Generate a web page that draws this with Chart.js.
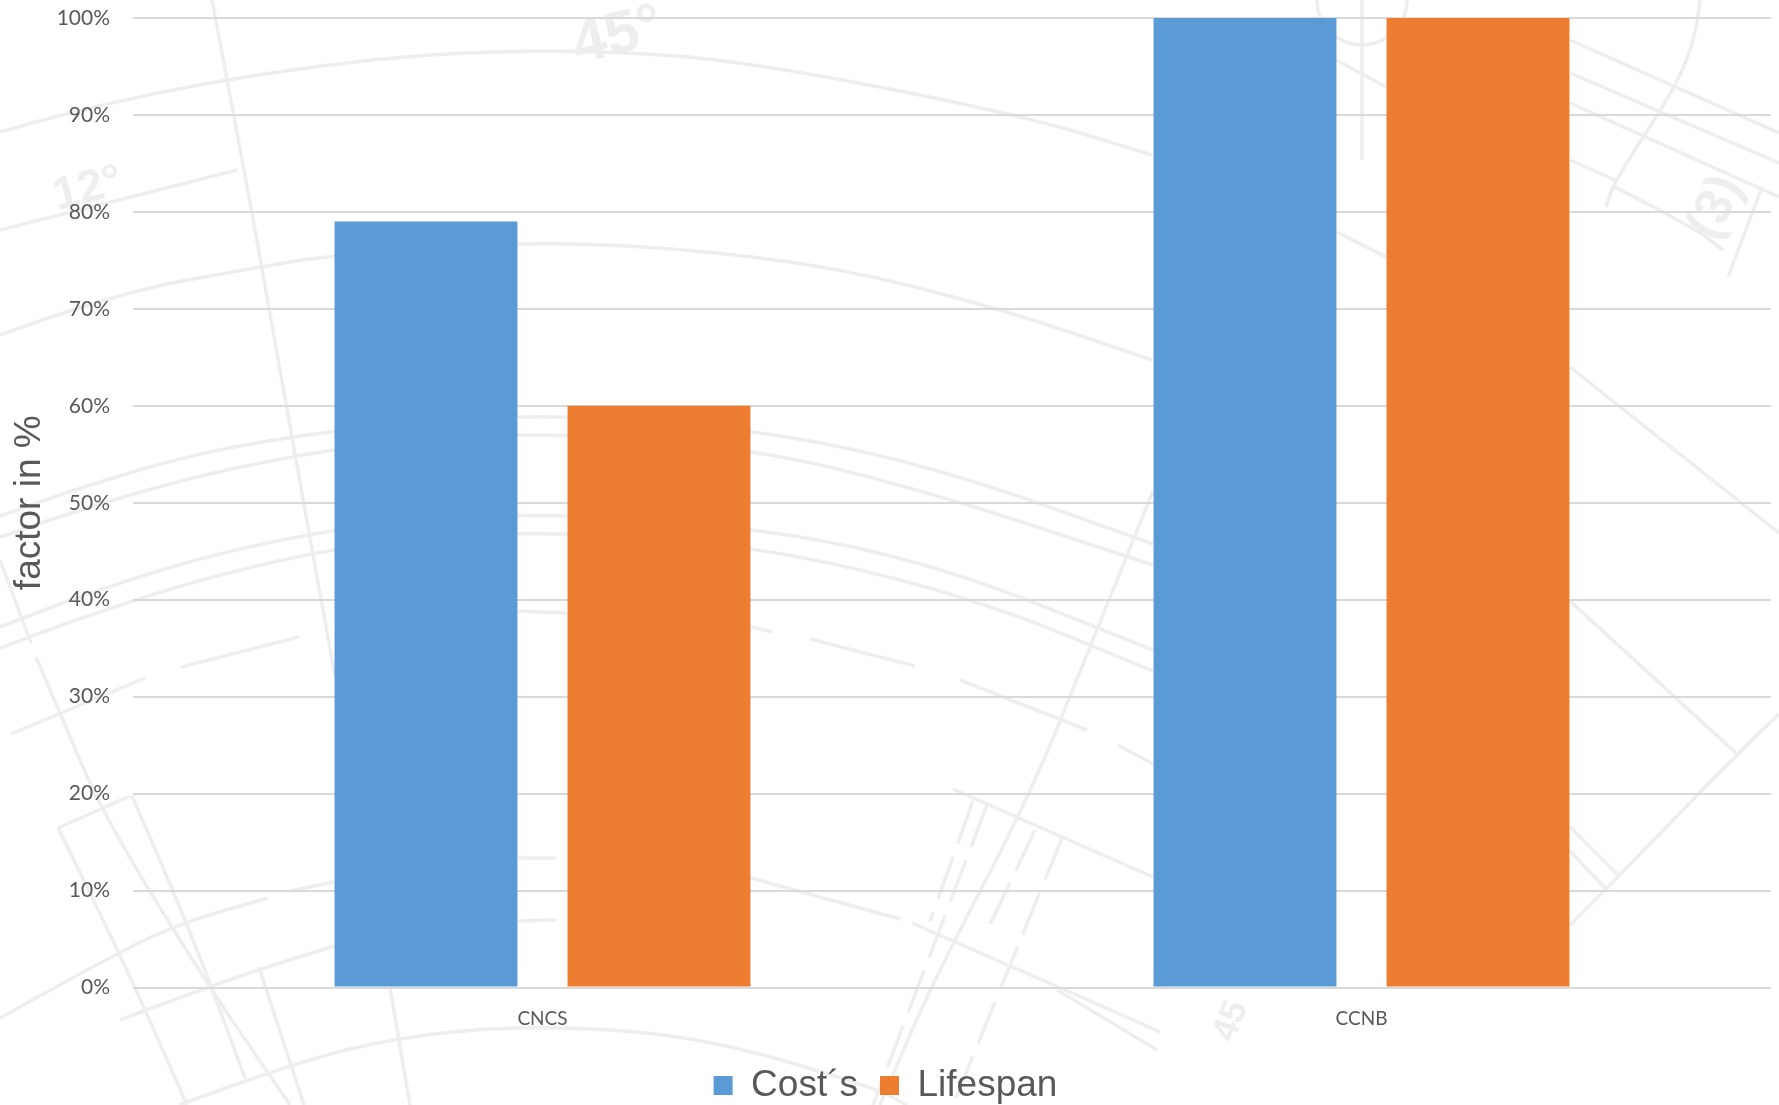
<!DOCTYPE html>
<html>
<head>
<meta charset="utf-8">
<style>
  html, body { margin: 0; padding: 0; background: #fff; }
  #wrap { width: 1779px; height: 1105px; overflow: hidden; }
</style>
</head>
<body>
<div id="wrap"><canvas id="chart"></canvas></div>
<script src="https://cdn.jsdelivr.net/npm/chart.js@4/dist/chart.umd.min.js"></script>
<script>
const categories = ['CNCS', 'CCNB'];
const costs = [79, 100];
const lifespan = [60, 100];
const yMax = 100;
const yStep = 10;

// faint technical drawing behind the chart
const sketchLines = [
    [[0,132],[76,110],[230,78],[421,53],[600,50],[752,62],[1022,115],[1152,155]],
    [[0,230],[237,170]],
    [[0,335],[115,293],[260,267],[333,255],[517,242],[668,247],[837,267],[1005,310],[1152,360]],
    [[1336,60],[1386,87]], [[1337,232],[1386,257]],
    [[1570,40],[1779,133]], [[1570,73],[1779,163]], [[1570,103],[1779,197]],
    [[1570,160],[1615,180]], [[1615,187],[1693,227],[1723,250]],
    [[1700,0],[1697,33],[1676,87],[1615,180],[1606,207]],
    [[1762,187],[1728,277]], [[1362,0],[1362,160]],
    [[212,0],[250,200],[285,400],[335,676]], [[0,560],[31,643]],
    [[0,516],[134,468],[290,435],[518,412],[751,428],[940,468],[1153,544]],
    [[0,537],[134,490],[334,447],[518,431],[751,447],[940,495],[1153,565]],
    [[0,627],[134,574],[334,527],[518,512],[751,526],[940,565],[1153,650]],
    [[0,648],[134,597],[334,546],[518,530],[751,544],[973,597],[1153,671]],
    [[1570,601],[1737,754]], [[1570,367],[1779,533]],
    [[1570,827],[1620,877]], [[1570,851],[1607,890]],
    [[1779,714],[1737,754],[1620,875],[1570,925]],
    [[11,734],[145,678]], [[181,667],[299,637]],
    [[518,611],[567,613]], [[751,627],[772,632]], [[810,639],[915,666]],
    [[960,680],[1087,730]], [[1118,745],[1153,764]],
    [[518,858],[556,858]], [[518,921],[556,920]],
    [[751,878],[900,919]], [[912,923],[1057,986],[1160,1032]], [[1057,990],[1157,1050]],
    [[953,789],[1153,877]],
    [[1153,491],[1093,639],[1030,796],[933,981],[880,1105]],
    [[179,1105],[290,1064],[402,1036],[536,1025],[700,1036],[873,1087],[907,1105]],
    [[0,1018],[120,951],[187,921],[268,898]],
    [[120,1020],[223,981],[334,946]], [[290,891],[334,882]],
    [[58,828],[120,953],[187,1105]], [[132,796],[187,921],[245,1078]], [[58,828],[130,796]],
    [[36,657],[58,708],[103,815],[205,981],[290,1105]],
    [[259,967],[304,1105]], [[390,988],[410,1105]]
];
const sketchDashed = [
    [[987,805],[873,1105]], [[1062,838],[953,1105]], [[973,801],[930,921]], [[1035,830],[990,925]]
];
const sketchTexts = [
    { text: '45°', x: 574, y: 48, size: 60, rot: -0.25 },
    { text: '12°', x: 54, y: 198, size: 46, rot: -0.25 },
    { text: '(3)', x: 1702, y: 236, size: 52, rot: -1.1 },
    { text: '45', x: 1224, y: 1040, size: 36, rot: -1.2 }
];

const strokeSketch = (ctx, pts) => {
    ctx.beginPath();
    ctx.moveTo(pts[0][0], pts[0][1]);
    for (let i = 1; i < pts.length - 1; i++) {
        const mx = (pts[i][0] + pts[i + 1][0]) / 2;
        const my = (pts[i][1] + pts[i + 1][1]) / 2;
        ctx.quadraticCurveTo(pts[i][0], pts[i][1], mx, my);
    }
    const last = pts[pts.length - 1];
    ctx.lineTo(last[0], last[1]);
    ctx.stroke();
};

const sketchPlugin = {
    id: 'sketch',
    beforeDraw(chart) {
        const ctx = chart.ctx;
        ctx.save();
        ctx.fillStyle = '#ffffff';
        ctx.fillRect(0, 0, chart.width, chart.height);
        ctx.strokeStyle = '#eeeeee';
        ctx.lineWidth = 3.5;
        sketchLines.forEach(l => strokeSketch(ctx, l));
        ctx.setLineDash([45, 14]);
        sketchDashed.forEach(l => strokeSketch(ctx, l));
        ctx.setLineDash([]);
        ctx.beginPath();
        ctx.arc(1362, 0, 45, 0, Math.PI);
        ctx.stroke();
        ctx.fillStyle = '#eeeeee';
        sketchTexts.forEach(t => {
            ctx.save();
            ctx.translate(t.x, t.y);
            ctx.rotate(t.rot);
            ctx.font = 'bold ' + t.size + 'px "Liberation Sans"';
            ctx.fillText(t.text, 0, 0);
            ctx.restore();
        });
        ctx.restore();
    }
};

new Chart(document.getElementById('chart'), {
    type: 'bar',
    plugins: [sketchPlugin],
    data: {
        labels: categories,
        datasets: [
            { label: 'Cost´s', data: costs, backgroundColor: '#5b9bd5' },
            { label: 'Lifespan', data: lifespan, backgroundColor: '#ed7d31' }
        ]
    },
    options: {
        responsive: true,
        maintainAspectRatio: false,
        animation: false,
        layout: { padding: { top: 18, right: 8, bottom: -9, left: 0 } },
        categoryPercentage: 0.569,
        barPercentage: 0.785,
        plugins: {
            tooltip: { enabled: false },
            legend: {
                position: 'bottom',
                labels: {
                    color: '#595959',
                    font: { family: '"Liberation Sans"', size: 37 },
                    boxWidth: 19,
                    boxHeight: 19,
                    padding: 22
                }
            }
        },
        scales: {
            x: {
                afterFit: scale => { scale.height = 57.5; },
                grid: { display: false },
                border: { display: false },
                ticks: {
                    color: '#595959',
                    font: { family: 'Lato', size: 19 },
                    padding: 12
                }
            },
            y: {
                min: 0,
                max: yMax,
                afterFit: scale => {
                    scale.width = 133;
                    scale.paddingTop = 0;
                    scale.paddingBottom = 0;
                },
                grid: { color: '#d9d9d9', lineWidth: 2, drawTicks: false },
                border: { display: false },
                title: {
                    display: true,
                    text: 'factor in %',
                    color: '#595959',
                    font: { family: '"Liberation Sans"', size: 37 },
                    padding: { top: 8, bottom: 0 }
                },
                ticks: {
                    stepSize: yStep,
                    color: '#595959',
                    font: { family: 'Lato', size: 21 },
                    padding: 23,
                    callback: v => v + '%'
                }
            }
        }
    }
});
</script>
</body>
</html>
